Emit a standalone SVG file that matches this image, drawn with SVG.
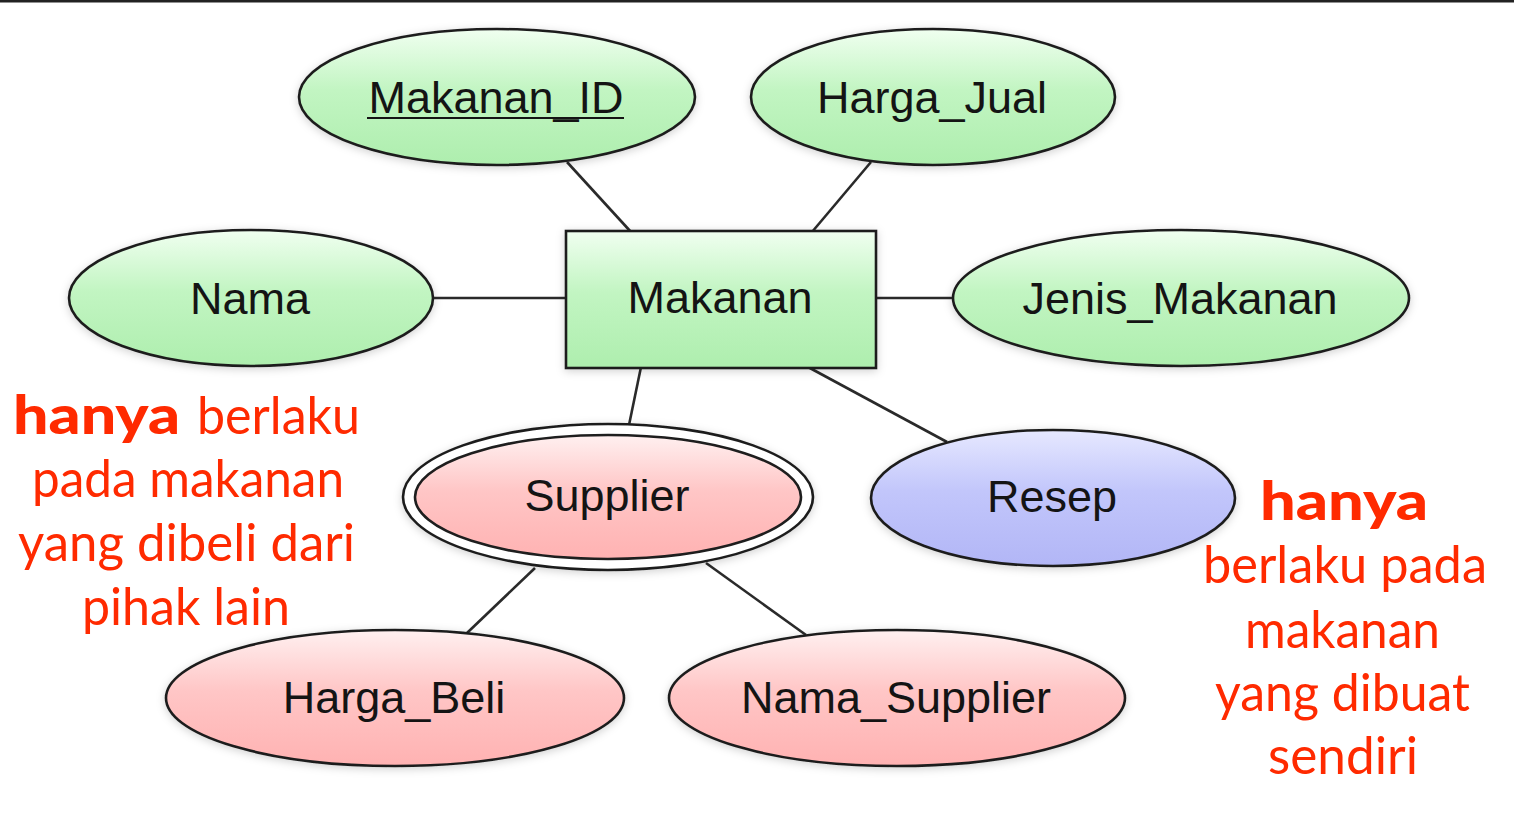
<svg xmlns="http://www.w3.org/2000/svg" width="1517" height="833" viewBox="0 0 1517 833">
<style>
.ln{stroke:#2a2a2a;stroke-width:2.6;fill:none}
.sh{stroke:#1e1e1e;stroke-width:2.6}
.lbl{font-family:"Liberation Sans",Arial,sans-serif;font-size:45px;fill:#141414;text-anchor:middle}
.note{font-family:Lato,"Open Sans",sans-serif;font-size:53px;fill:#ff2a00}
.b{font-weight:900}
</style>
<defs>
<linearGradient id="gG" x1="0" y1="0" x2="0" y2="1"><stop offset="0" stop-color="#f0fff0"/><stop offset="0.45" stop-color="#c2f5c2"/><stop offset="1" stop-color="#aeeeae"/></linearGradient>
<linearGradient id="gR" x1="0" y1="0" x2="0" y2="1"><stop offset="0" stop-color="#fff0f0"/><stop offset="0.45" stop-color="#ffc6c6"/><stop offset="1" stop-color="#ffb2b2"/></linearGradient>
<linearGradient id="gB" x1="0" y1="0" x2="0" y2="1"><stop offset="0" stop-color="#e6e8ff"/><stop offset="0.45" stop-color="#c2c6fb"/><stop offset="1" stop-color="#b2b6f6"/></linearGradient>
<filter id="sd" x="-10%" y="-20%" width="120%" height="140%"><feDropShadow dx="0" dy="2" stdDeviation="4" flood-color="#000" flood-opacity="0.18"/></filter>
</defs>
<rect x="0" y="0" width="1517" height="833" fill="#fff"/>
<rect x="0" y="0" width="1514" height="2.5" fill="#222"/>
<g id="connectors">
<line class="ln" x1="567" y1="162" x2="631" y2="232"/>
<line class="ln" x1="871" y1="162" x2="812" y2="232"/>
<line class="ln" x1="432" y1="298" x2="567" y2="298"/>
<line class="ln" x1="876" y1="298" x2="955" y2="298"/>
<line class="ln" x1="641" y1="367" x2="629" y2="425"/>
<line class="ln" x1="808" y1="367" x2="947" y2="442"/>
<line class="ln" x1="535" y1="568" x2="467" y2="633"/>
<line class="ln" x1="706" y1="563" x2="806" y2="635"/>
</g>
<g id="makanan_id">
<ellipse class="sh" cx="497" cy="97" rx="198" ry="68" fill="url(#gG)" filter="url(#sd)"/>
<text class="lbl" x="496" y="113">Makanan_ID</text>
<line x1="367" y1="118" x2="624" y2="118" stroke="#141414" stroke-width="2.2"/>
</g>
<g id="harga_jual">
<ellipse class="sh" cx="933" cy="97" rx="182" ry="68" fill="url(#gG)" filter="url(#sd)"/>
<text class="lbl" x="932" y="113">Harga_Jual</text>
</g>
<g id="nama">
<ellipse class="sh" cx="251" cy="298" rx="182" ry="68" fill="url(#gG)" filter="url(#sd)"/>
<text class="lbl" x="250" y="314">Nama</text>
</g>
<g id="makanan">
<rect class="sh" x="566" y="231" width="310" height="137" fill="url(#gG)" filter="url(#sd)"/>
<text class="lbl" x="720" y="313">Makanan</text>
</g>
<g id="jenis_makanan">
<ellipse class="sh" cx="1181" cy="298" rx="228" ry="68" fill="url(#gG)" filter="url(#sd)"/>
<text class="lbl" x="1180" y="314">Jenis_Makanan</text>
</g>
<g id="supplier">
<ellipse class="sh" cx="608" cy="497" rx="205" ry="73" fill="#fff" filter="url(#sd)"/>
<ellipse class="sh" cx="608" cy="497" rx="193" ry="62" fill="url(#gR)"/>
<text class="lbl" x="607" y="511">Supplier</text>
</g>
<g id="resep">
<ellipse class="sh" cx="1053" cy="498" rx="182" ry="68" fill="url(#gB)" filter="url(#sd)"/>
<text class="lbl" x="1052" y="512">Resep</text>
</g>
<g id="harga_beli">
<ellipse class="sh" cx="395" cy="698" rx="229" ry="68" fill="url(#gR)" filter="url(#sd)"/>
<text class="lbl" x="394" y="713">Harga_Beli</text>
</g>
<g id="nama_supplier">
<ellipse class="sh" cx="897" cy="698" rx="228" ry="68" fill="url(#gR)" filter="url(#sd)"/>
<text class="lbl" x="896" y="713">Nama_Supplier</text>
</g>
<g id="note_left">
<text class="note b" x="13" y="434" textLength="167" lengthAdjust="spacingAndGlyphs">hanya</text>
<text class="note" x="197" y="434" textLength="163" lengthAdjust="spacingAndGlyphs">berlaku</text>
<text class="note" x="32" y="497" textLength="312" lengthAdjust="spacingAndGlyphs">pada makanan</text>
<text class="note" x="18" y="561" textLength="337" lengthAdjust="spacingAndGlyphs">yang dibeli dari</text>
<text class="note" x="82" y="625" textLength="208" lengthAdjust="spacingAndGlyphs">pihak lain</text>
</g>
<g id="note_right">
<text class="note b" x="1260" y="520" textLength="168" lengthAdjust="spacingAndGlyphs">hanya</text>
<text class="note" x="1203" y="583" textLength="284" lengthAdjust="spacingAndGlyphs">berlaku pada</text>
<text class="note" x="1245" y="648" textLength="195" lengthAdjust="spacingAndGlyphs">makanan</text>
<text class="note" x="1215" y="711" textLength="255" lengthAdjust="spacingAndGlyphs">yang dibuat</text>
<text class="note" x="1268" y="774" textLength="150" lengthAdjust="spacingAndGlyphs">sendiri</text>
</g>
</svg>
